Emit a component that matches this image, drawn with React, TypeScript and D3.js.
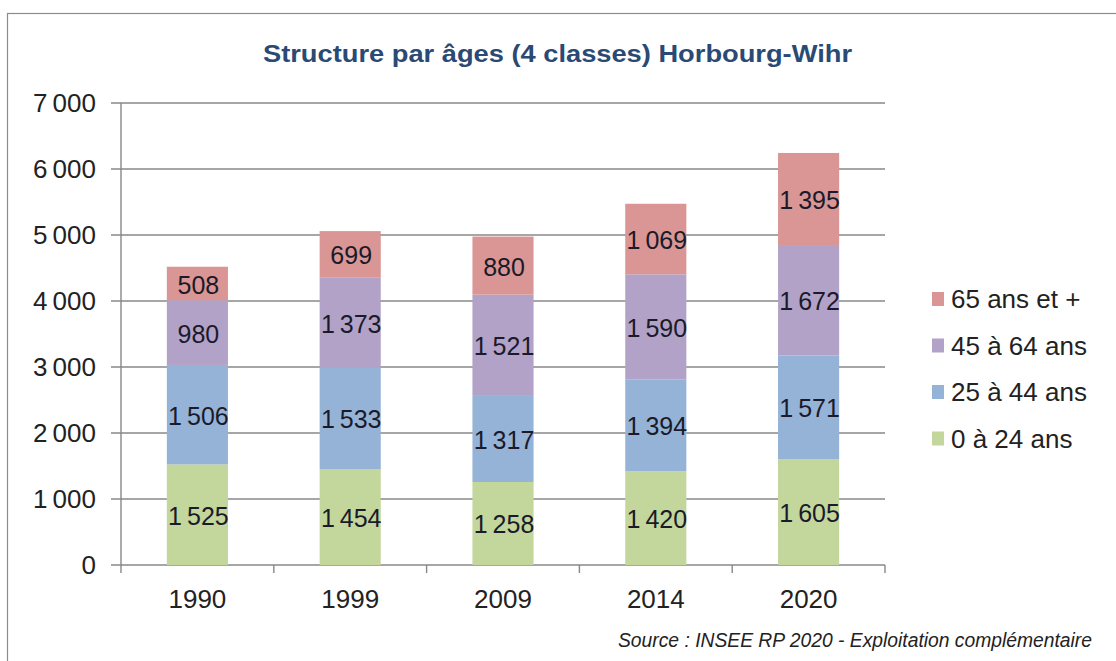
import React from "react";
import * as d3 from "d3";

const years = ["1990", "1999", "2009", "2014", "2020"];
const seriesNames = ["0 à 24 ans", "25 à 44 ans", "45 à 64 ans", "65 ans et +"];
const age0_24 = [1525, 1454, 1258, 1420, 1605];
const age25_44 = [1506, 1533, 1317, 1394, 1571];
const age45_64 = [980, 1373, 1521, 1590, 1672];
const age65 = [508, 699, 880, 1069, 1395];
const yTicks = [0, 1000, 2000, 3000, 4000, 5000, 6000, 7000];
const colors = ["#c3d69b", "#95b3d7", "#b3a2c7", "#d99694"];

const W = 1116, H = 661;
const left = 121, right = 885, top = 103, bottom = 565;

const fmt = (v: number) => d3.format(",")(v).replace(/,/g, "\u2009");

export default function App() {
  const series = [age0_24, age25_44, age45_64, age65];
  const rows = years.map((y, i) => ({
    year: y,
    s0: series[0][i],
    s1: series[1][i],
    s2: series[2][i],
    s3: series[3][i],
  }));
  const stack = d3.stack<any>().keys(["s0", "s1", "s2", "s3"])(rows);
  const x = d3.scaleBand().domain(years).range([left, right]).paddingInner(0.6).paddingOuter(0.3);
  const y = d3.scaleLinear().domain([0, 7000]).range([bottom, top]);
  const font = "'Liberation Sans', Arial, sans-serif";

  return (
    <svg width={W} height={H} style={{ position: "absolute", left: 0, top: 0, background: "#fff" }}>
      <rect x={7.5} y={13.5} width={W + 10} height={H + 10} fill="#fff" stroke="#8c8c8c" strokeWidth={1.2} />
      <text x={263} y={62} textLength={589} lengthAdjust="spacingAndGlyphs" fontFamily={font} fontWeight="bold" fontSize={23} fill="#2a4a75">
        Structure par âges  (4 classes)  Horbourg-Wihr
      </text>
      {yTicks.map((t) => (
        <g key={t}>
          <line x1={111} x2={right} y1={y(t)} y2={y(t)} stroke="#888" strokeWidth={1.4} />
          <text x={96} y={y(t) + 9} textAnchor="end" fontFamily={font} fontSize={26} fill="#222">
            {fmt(t)}
          </text>
        </g>
      ))}
      <line x1={left} x2={left} y1={top} y2={bottom + 8} stroke="#888" strokeWidth={1.4} />
      {years.map((yr) => {
        const xt = (x(yr) as number) + x.bandwidth() / 2 + x.step() / 2;
        return <line key={yr} x1={xt} x2={xt} y1={bottom} y2={bottom + 8} stroke="#888" strokeWidth={1.4} />;
      })}
      {stack.map((layer, si) => (
        <g key={si}>
          {layer.map((d, i) => (
            <rect key={i} x={x(years[i])} width={x.bandwidth()} y={y(d[1])} height={y(d[0]) - y(d[1])} fill={colors[si]} />
          ))}
        </g>
      ))}
      {stack.map((layer, si) => (
        <g key={"l" + si}>
          {layer.map((d, i) => (
            <text key={i} x={(x(years[i]) as number) + x.bandwidth() / 2 + 1} y={y((d[0] + d[1]) / 2) + 10} textAnchor="middle" fontFamily={font} fontSize={25} fill="#1a1a2a">
              {fmt(series[si][i])}
            </text>
          ))}
        </g>
      ))}
      {years.map((yr) => (
        <text key={yr} x={(x(yr) as number) + x.bandwidth() / 2} y={608} textAnchor="middle" fontFamily={font} fontSize={26} fill="#222">
          {yr}
        </text>
      ))}
      {[3, 2, 1, 0].map((si, k) => (
        <g key={si} transform={`translate(932, ${299 + k * 46.5})`}>
          <rect x={0} y={-7} width={12} height={14} fill={colors[si]} />
          <text x={19} y={9} fontFamily={font} fontSize={26} fill="#222">
            {seriesNames[si]}
          </text>
        </g>
      ))}
      <text x={618} y={647} textLength={474} lengthAdjust="spacingAndGlyphs" fontFamily={font} fontStyle="italic" fontSize={20} fill="#222">
        Source : INSEE RP 2020 - Exploitation complémentaire
      </text>
    </svg>
  );
}
